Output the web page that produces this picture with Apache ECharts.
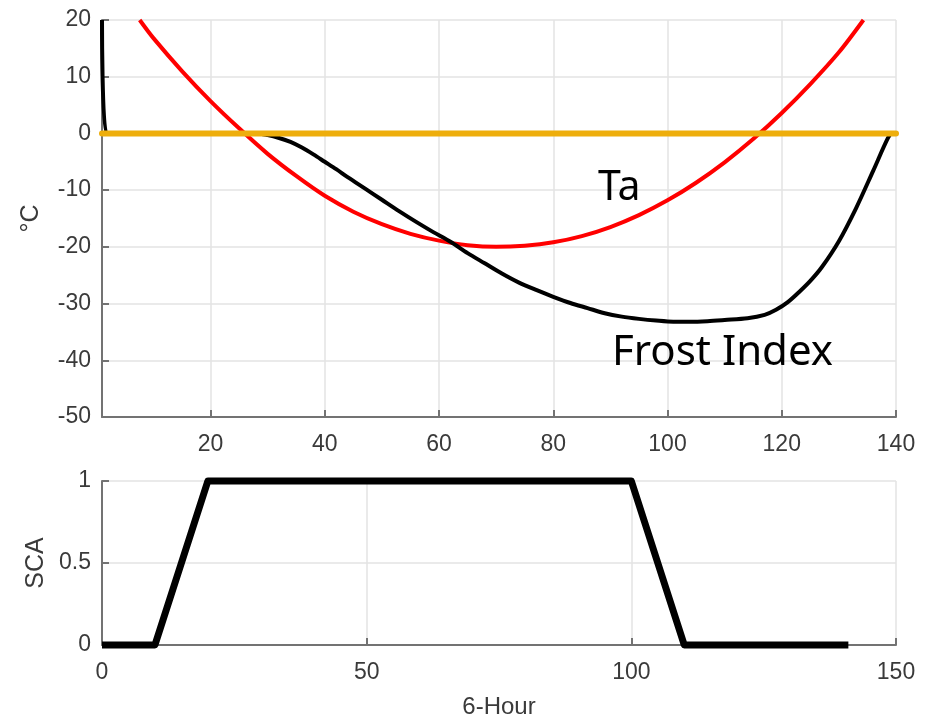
<!DOCTYPE html>
<html>
<head>
<meta charset="utf-8">
<script src="https://cdn.jsdelivr.net/npm/echarts@6/dist/echarts.min.js"></script>
<style>
  html, body { margin: 0; padding: 0; background: #fff; }
  #chart { width: 930px; height: 720px; }
</style>
</head>
<body>
<div id="chart"></div>
<script>
// valores
const taHours = [7.6, 10, 15, 20, 25, 30, 35, 40, 45, 50, 55, 60, 65, 70, 75, 80, 85, 90, 95, 100, 105, 110, 115, 120, 125, 130, 134.3];
const taValues = [20, 16.8, 11.0, 5.7, 0.9, -3.6, -7.5, -11.0, -13.8, -16.0, -17.7, -18.9, -19.7, -20.0, -19.8, -19.2, -18.1, -16.5, -14.4, -11.8, -8.7, -5.1, -1.0, 3.6, 8.7, 14.3, 20];

const fiHours = [1, 1.8, 10, 20, 28, 30, 32, 34, 36, 38, 40, 42, 44, 47, 50, 53, 56, 59, 62, 65, 68, 71, 74, 77, 80, 83, 86, 89, 92, 95, 98, 101, 104, 107, 110, 114, 117, 119, 121, 123, 125, 127, 130, 133, 136, 138.6, 139.3, 140];
const fiValues = [20, 0, 0, 0, 0, -0.3, -0.8, -1.5, -2.5, -3.7, -5.0, -6.3, -7.7, -9.7, -11.7, -13.7, -15.6, -17.4, -19.1, -21.1, -22.9, -24.7, -26.3, -27.6, -28.8, -29.9, -30.8, -31.7, -32.3, -32.7, -33.0, -33.2, -33.2, -33.1, -32.9, -32.6, -32.0, -31.1, -29.8, -28.0, -26.0, -23.6, -19.0, -13.2, -6.6, -0.8, 0, 0];

const zeroHours = [1, 140];
const zeroValues = [0, 0];

const scaHours = [0, 10, 20, 100, 110, 141];
const scaValues = [0, 0, 1, 1, 0, 0];

const topTicks = [20, 40, 60, 80, 100, 120, 140];

const zip = (xs, ys) => xs.map((x, i) => [x, ys[i]]);

const axisColor = '#737373';
const labelColor = '#3a3a3a';
const gridColor = '#e3e3e3';
const axisFont = 'Liberation Sans, Arial, sans-serif';

function ejeX(idx, min, max, interval, extra) {
  return Object.assign({
    type: 'value', gridIndex: idx, min: min, max: max, interval: interval,
    axisLine: { show: true, onZero: false, lineStyle: { color: axisColor, width: 2 } },
    axisTick: { show: true, inside: true, length: 7, lineStyle: { color: axisColor, width: 2 } },
    axisLabel: { color: labelColor, fontSize: 23, fontFamily: axisFont, margin: 16 },
    splitLine: { show: true, lineStyle: { color: gridColor, width: 1.5 } }
  }, extra || {});
}

function ejeY(idx, min, max, interval, name, gap) {
  return {
    type: 'value', gridIndex: idx, min: min, max: max, interval: interval,
    name: name, nameLocation: 'middle', nameRotate: 90, nameGap: gap,
    nameTextStyle: { color: labelColor, fontSize: 25, fontFamily: axisFont },
    axisLine: { show: true, onZero: false, lineStyle: { color: axisColor, width: 2 } },
    axisTick: { show: true, inside: true, length: 7, lineStyle: { color: axisColor, width: 2 } },
    axisLabel: { color: labelColor, fontSize: 23, fontFamily: axisFont, margin: 11 },
    splitLine: { show: true, lineStyle: { color: gridColor, width: 1.5 } }
  };
}

const contenedor = document.getElementById('chart');
const miGrafico = echarts.init(contenedor, null, { renderer: 'canvas' });

const option = {
  animation: false,
  backgroundColor: '#fff',
  grid: [
    { left: 102, right: 34, top: 20, height: 397 },
    { left: 102, right: 34, top: 481, height: 166 }
  ],
  xAxis: [
    ejeX(0, 1, 140, 20, {
      axisTick: { show: true, inside: true, length: 7, customValues: topTicks, lineStyle: { color: axisColor, width: 2 } },
      axisLabel: { color: labelColor, fontSize: 23, fontFamily: axisFont, margin: 16, customValues: topTicks }
    }),
    ejeX(1, 0, 150, 50, { name: '6-Hour', nameLocation: 'middle', nameGap: 50,
      nameTextStyle: { color: labelColor, fontSize: 24, fontFamily: axisFont } })
  ],
  yAxis: [
    ejeY(0, -50, 20, 10, '°C', 58),
    ejeY(1, 0, 1, 0.5, 'SCA', 52)
  ],
  graphic: [
    { type: 'text', left: 598, top: 160, z: 100,
      style: { text: 'Ta', fontSize: 41, lineHeight: 56, fontFamily: 'Noto Sans', fill: '#000' } },
    { type: 'text', left: 612, top: 324, z: 100,
      style: { text: 'Frost Index', fontSize: 42, lineHeight: 58, fontFamily: 'Noto Sans', fill: '#000' } }
  ],
  series: [
    { name: 'Ta', type: 'line', xAxisIndex: 0, yAxisIndex: 0, data: zip(taHours, taValues),
      smooth: 0.3, showSymbol: false, lineStyle: { color: '#ff0000', width: 4 } },
    { name: 'Frost Index', type: 'line', xAxisIndex: 0, yAxisIndex: 0, data: zip(fiHours, fiValues),
      smooth: 0.3, showSymbol: false, lineStyle: { color: '#000', width: 4 } },
    { name: 'cero', type: 'line', xAxisIndex: 0, yAxisIndex: 0, data: zip(zeroHours, zeroValues),
      clip: false, showSymbol: false, lineStyle: { color: '#eeae0c', width: 6, cap: 'round' } },
    { name: 'SCA', type: 'line', xAxisIndex: 1, yAxisIndex: 1, data: zip(scaHours, scaValues),
      clip: false, showSymbol: false, lineStyle: { color: '#000', width: 7, join: 'round' } }
  ]
};

miGrafico.setOption(option);
</script>
</body>
</html>
